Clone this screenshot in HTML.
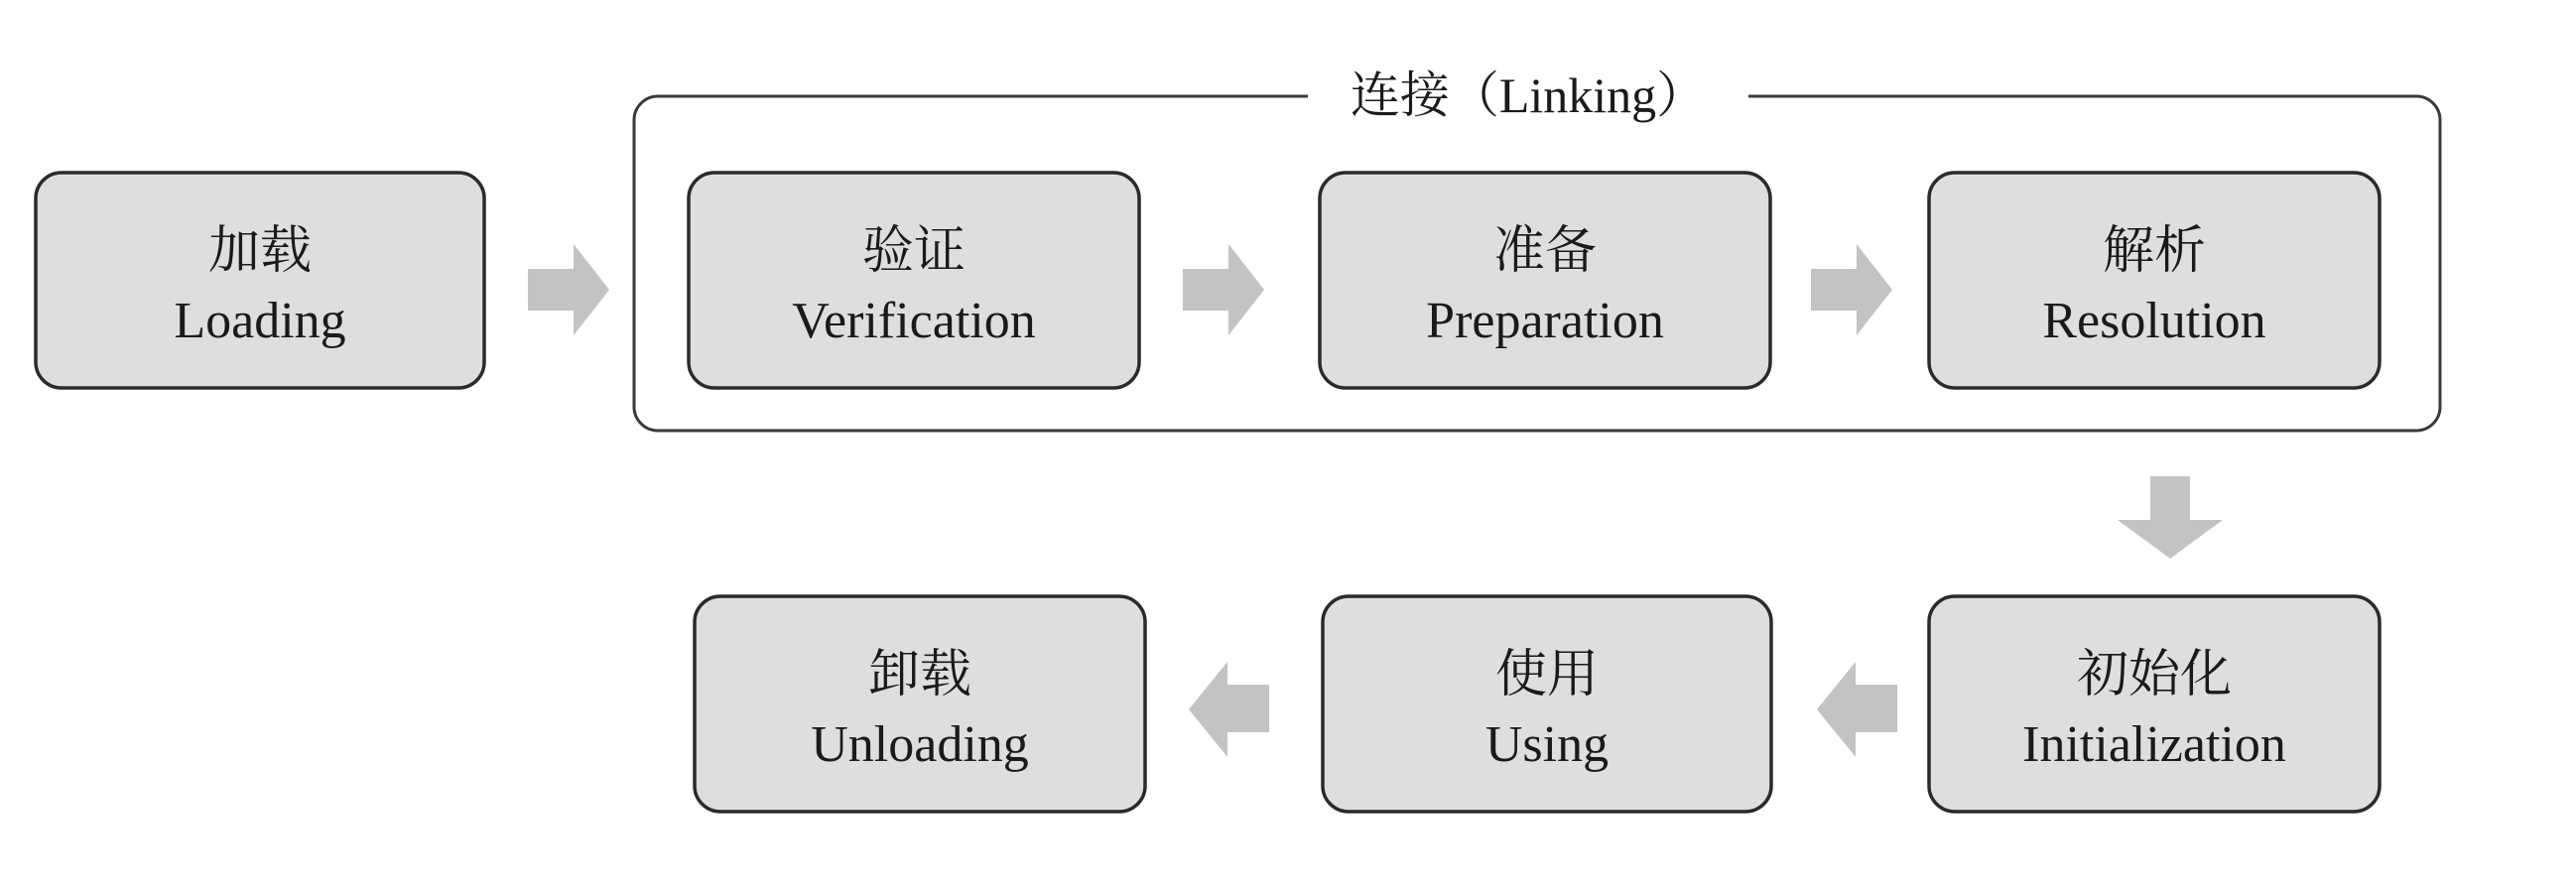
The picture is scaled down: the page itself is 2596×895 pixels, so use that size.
<!DOCTYPE html>
<html><head><meta charset="utf-8"><style>
html,body{margin:0;padding:0;background:#fff;}
svg text{font-family:"Liberation Serif","Noto Serif CJK SC",serif;fill:#1a1a1a;text-anchor:middle;}
</style></head><body>
<svg width="2596" height="890" viewBox="0 0 2596 890" xmlns="http://www.w3.org/2000/svg">
<rect x="639" y="97" width="1820" height="337" rx="24" fill="none" stroke="#3a3a3a" stroke-width="3"/>
<rect x="1318" y="80" width="444" height="36" fill="#fff"/>
<text x="1540" y="113" font-size="50">连接（Linking）</text>
<g fill="#dcdedf" stroke="#2a2a2a" stroke-width="3.5">
<rect x="36" y="174" width="452" height="217" rx="26"/>
<rect x="694" y="174" width="454" height="217" rx="26"/>
<rect x="1330" y="174" width="454" height="217" rx="26"/>
<rect x="1944" y="174" width="454" height="217" rx="26"/>
<rect x="700" y="601" width="454" height="217" rx="26"/>
<rect x="1333" y="601" width="452" height="217" rx="26"/>
<rect x="1944" y="601" width="454" height="217" rx="26"/>
</g>
<g fill="#c2c3c4">
<polygon points="532,271 578,271 578,246 614,292 578,338 578,313 532,313"/>
<polygon points="1192,271 1238,271 1238,246 1274,292 1238,338 1238,313 1192,313"/>
<polygon points="1825,271 1871,271 1871,246 1907,292 1871,338 1871,313 1825,313"/>
<polygon points="2167,480 2207,480 2207,524 2240,524 2187,563 2134,524 2167,524"/>
<polygon points="1912,690 1870,690 1870,667 1831,715 1870,763 1870,738 1912,738"/>
<polygon points="1279,690 1237,690 1237,667 1198,715 1237,763 1237,738 1279,738"/>
</g>
<g font-size="52">
<text x="262" y="270">加载</text><text x="262" y="340">Loading</text>
<text x="921" y="270">验证</text><text x="921" y="340">Verification</text>
<text x="1557" y="270">准备</text><text x="1557" y="340">Preparation</text>
<text x="2171" y="270">解析</text><text x="2171" y="340">Resolution</text>
<text x="927" y="697">卸载</text><text x="927" y="767">Unloading</text>
<text x="1559" y="697">使用</text><text x="1559" y="767">Using</text>
<text x="2171" y="697">初始化</text><text x="2171" y="767">Initialization</text>
</g>
</svg>
</body></html>
